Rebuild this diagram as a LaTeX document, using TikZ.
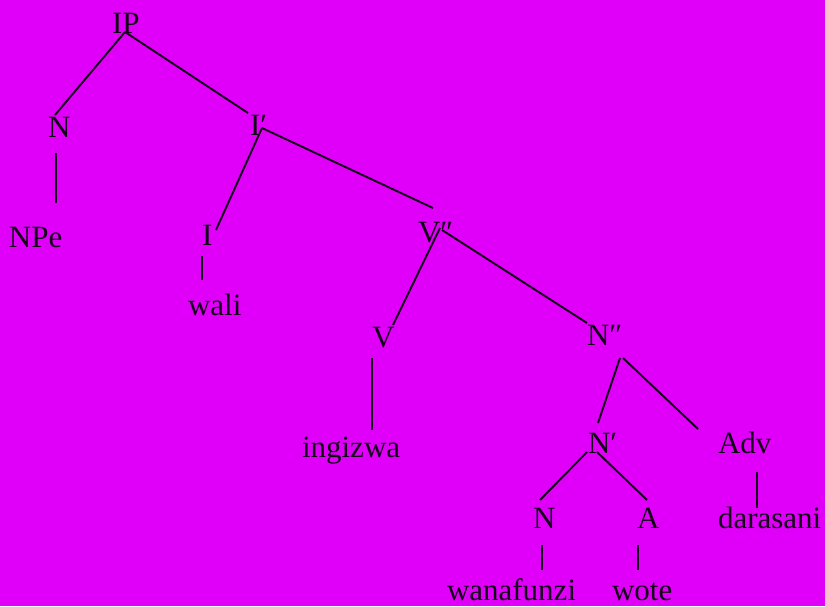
\documentclass[tikz,border=0pt]{standalone}
\usepackage{fontspec}
\setmainfont{Liberation Serif}
\usetikzlibrary{calc}
\definecolor{bgmag}{RGB}{224,0,250}
\definecolor{ink}{RGB}{20,0,25}
\begin{document}
\begin{tikzpicture}[x=1pt,y=-1pt,
  lbl/.style={anchor=base west,inner sep=0pt,outer sep=0pt,text=ink,font=\fontsize{31}{36}\selectfont},
  edge/.style={draw=ink,line width=1.9pt}]
\fill[bgmag] (0,0) rectangle (825,606);
\path[use as bounding box] (0,0) rectangle (825,606);
% nodes
\node[lbl] (IP) at (112,33) {IP};
\node[lbl] (N1) at (48,137) {N};
\node[lbl] (NPe) at (9,247) {NPe};
\node[lbl] (I1) at (250,135) {I′};
\node[lbl] (I2) at (202,245) {I};
\node[lbl] (wali) at (188,315) {wali};
\node[lbl] (V2) at (418,242) {V″};
\node[lbl] (V) at (372,347) {V};
\node[lbl] (ingizwa) at (302,457) {ingizwa};
\node[lbl] (N2) at (587,345) {N″};
\node[lbl] (N3) at (588,453) {N′};
\node[lbl] (Adv) at (718,453) {Adv};
\node[lbl] (N4) at (533,528) {N};
\node[lbl] (A) at (637,528) {A};
\node[lbl] (darasani) at (718,528) {darasani};
\node[lbl] (wanafunzi) at (447,600) {wanafunzi};
\node[lbl] (wote) at (612,600) {wote};
% connectors
\draw[edge] ($(IP.base west)+(13,-1)$) -- ($(N1.base west)+(7,-22)$);
\draw[edge] ($(IP.base west)+(13,-1)$) -- ($(I1.base west)+(-2,-22)$);
\draw[edge] ($(N1.base west)+(8,16)$) -- ($(NPe.base west)+(47,-44)$);
\draw[edge] ($(I1.base west)+(12,-7)$) -- ($(I2.base west)+(14,-15)$);
\draw[edge] ($(I1.base west)+(12,-7)$) -- ($(V2.base west)+(15,-34)$);
\draw[edge] ($(I2.base west)+(0,11)$) -- ($(wali.base west)+(14,-35)$);
\draw[edge] ($(V2.base west)+(22,-14)$) -- ($(V.base west)+(21,-22)$);
\draw[edge] ($(V2.base west)+(24,-12)$) -- ($(N2.base west)+(0,-22)$);
\draw[edge] ($(V.base west)+(0,11)$) -- ($(ingizwa.base west)+(70,-27)$);
\draw[edge] ($(N2.base west)+(33,13)$) -- ($(N3.base west)+(10,-30)$);
\draw[edge] ($(N2.base west)+(36,13)$) -- ($(Adv.base west)+(-20,-24)$);
\draw[edge] ($(N3.base west)+(-1,-1)$) -- ($(N4.base west)+(7,-28)$);
\draw[edge] ($(N3.base west)+(9,-1)$) -- ($(A.base west)+(10,-28)$);
\draw[edge] ($(Adv.base west)+(39,19)$) -- ($(darasani.base west)+(39,-20)$);
\draw[edge] ($(N4.base west)+(9,17)$) -- ($(wanafunzi.base west)+(95,-30)$);
\draw[edge] ($(A.base west)+(1,17)$) -- ($(wote.base west)+(26,-30)$);
\end{tikzpicture}
\end{document}
